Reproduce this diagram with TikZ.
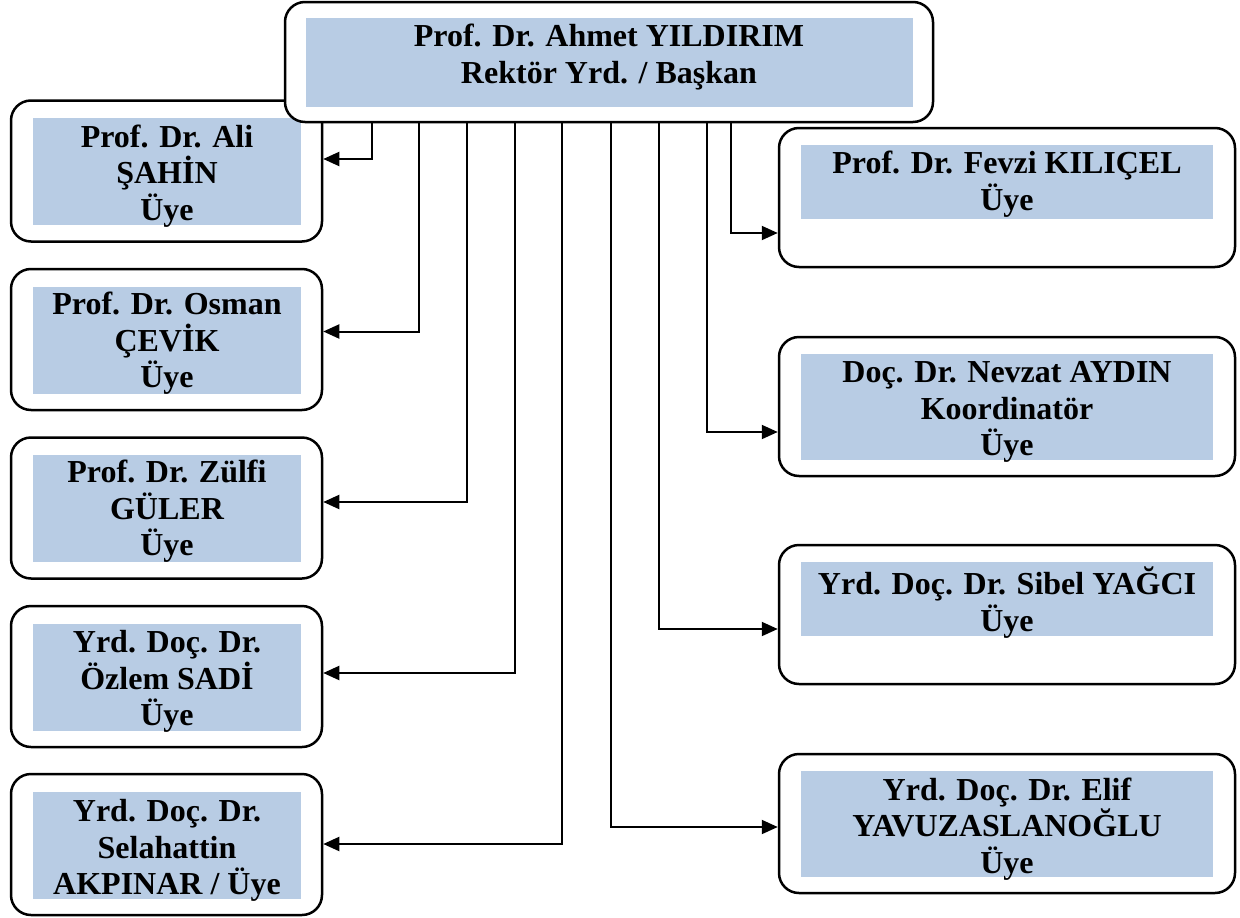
\documentclass[tikz,border=0pt]{standalone}
\usepackage{fontspec}
\setmainfont{Liberation Serif}
\usetikzlibrary{arrows.meta}
\definecolor{boxblue}{HTML}{B8CCE4}
\tikzset{
  outerbox/.style={draw=black, line width=2.5pt, fill=white, rounded corners=20pt, inner sep=0pt},
  innerfill/.style={fill=boxblue, draw=none, inner sep=0pt},
  label/.style={align=center, inner sep=0pt, font=\bfseries\fontsize{32}{36.5}\selectfont},
  conn/.style={line width=2pt, -{Triangle[length=16pt,width=14pt]}},
  leftbox/.style={outerbox, minimum width=311pt, minimum height=141pt},
  leftfill/.style={innerfill, minimum width=268pt, minimum height=107pt},
  rightbox/.style={outerbox, minimum width=456pt, minimum height=139pt},
  rightfill/.style={innerfill, minimum width=412pt}
}
\begin{document}
\begin{tikzpicture}[x=1pt,y=-1pt]
\useasboundingbox (0,0) rectangle (1240,918);

% left boxes
\node[leftbox] (L1) at (166.5,171) {};
\node[leftfill] (L1f) at (167,171) {};
\node[label] (L1t) at (167,176) {Prof. Dr. Ali\\ŞAHİN\\Üye};

\node[leftbox] (L2) at (166.5,339.5) {};
\node[leftfill] (L2f) at (167,340) {};
\node[label] (L2t) at (167,343.5) {Prof. Dr. Osman\\ÇEVİK\\Üye};

\node[leftbox] (L3) at (166.5,508) {};
\node[leftfill] (L3f) at (167,508) {};
\node[label] (L3t) at (167,511.5) {Prof. Dr. Zülfi\\GÜLER\\Üye};

\node[leftbox] (L4) at (166.5,676.5) {};
\node[leftfill] (L4f) at (167,677) {};
\node[label] (L4t) at (167,681.5) {Yrd. Doç. Dr.\\Özlem SADİ\\Üye};

\node[leftbox] (L5) at (166.5,844.5) {};
\node[leftfill] (L5f) at (167,845) {};
\node[label] (L5t) at (167,850.5) {Yrd. Doç. Dr.\\Selahattin\\AKPINAR / Üye};

% right boxes
\node[rightbox] (R1) at (1007,197.5) {};
\node[rightfill, minimum height=74pt] (R1f) at (1007,182) {};
\node[label] (R1t) at (1007,184) {Prof. Dr. Fevzi KILIÇEL\\Üye};

\node[rightbox] (R2) at (1007,406.5) {};
\node[rightfill, minimum height=106pt] (R2f) at (1007,407) {};
\node[label] (R2t) at (1007,412) {Doç. Dr. Nevzat AYDIN\\Koordinatör\\Üye};

\node[rightbox] (R3) at (1007,614.5) {};
\node[rightfill, minimum height=74pt] (R3f) at (1007,599) {};
\node[label] (R3t) at (1007,602.5) {Yrd. Doç. Dr. Sibel YAĞCI\\Üye};

\node[rightbox] (R4) at (1007,823.5) {};
\node[rightfill, minimum height=106pt] (R4f) at (1007,824) {};
\node[label] (R4t) at (1007,829) {Yrd. Doç. Dr. Elif\\YAVUZASLANOĞLU\\Üye};

% top box
\node[outerbox, minimum width=648pt, minimum height=120pt] (top) at (609,62) {};
\node[innerfill, minimum width=607pt, minimum height=89pt] (topf) at (609.5,62.5) {};
\node[label] (topt) at (609,57) {Prof. Dr. Ahmet YILDIRIM\\Rektör Yrd. / Başkan};

% connectors
\draw[conn] ([xshift=-237.5pt]top.south) |- ([yshift=12pt]L1.east);
\draw[conn] ([xshift=-190pt]top.south) |- ([yshift=8pt]L2.east);
\draw[conn] ([xshift=-142pt]top.south) |- ([yshift=6pt]L3.east);
\draw[conn] ([xshift=-94.5pt]top.south) |- ([yshift=3.5pt]L4.east);
\draw[conn] ([xshift=-47pt]top.south) |- ([yshift=0.5pt]L5.east);
\draw[conn] ([xshift=1.5pt]top.south) |- ([yshift=-3.5pt]R4.west);
\draw[conn] ([xshift=50pt]top.south) |- ([yshift=-14.5pt]R3.west);
\draw[conn] ([xshift=98pt]top.south) |- ([yshift=-25.5pt]R2.west);
\draw[conn] ([xshift=121.5pt]top.south) |- ([yshift=-35.5pt]R1.west);
\end{tikzpicture}
\end{document}
